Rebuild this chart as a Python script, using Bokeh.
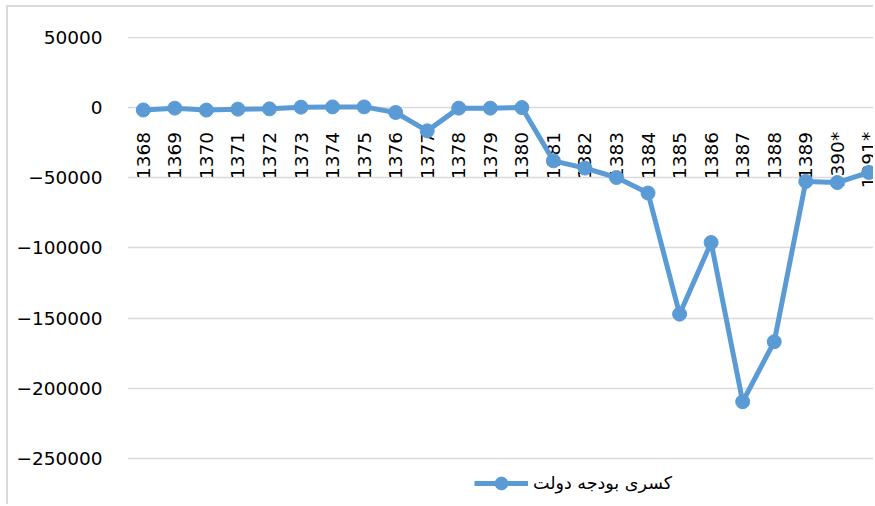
import math
from bokeh.plotting import figure
from bokeh.models import (Range1d, FixedTicker, BasicTickFormatter, ColumnDataSource,
                          Legend, LegendItem)
from bokeh.core.properties import value
from bokeh.embed import file_html
from bokeh.resources import INLINE

years = ["1368", "1369", "1370", "1371", "1372", "1373", "1374", "1375", "1376",
         "1377", "1378", "1379", "1380", "1381", "1382", "1383", "1384", "1385",
         "1386", "1387", "1388", "1389", "1390*", "1391*"]
deficit = [-1500, -200, -1600, -900, -700, 500, 700, 700, -3300, -16400, -200, -200,
           200, -37800, -43000, -49700, -60800, -147200, -96100, -209700, -166900,
           -52500, -53300, -46100]
y_ticks = [-250000, -200000, -150000, -100000, -50000, 0, 50000]
series_name = "کسری بودجه دولت"

idx = list(range(len(years)))
src = ColumnDataSource(dict(x=idx, y=deficit, label=years, zero=[0] * len(years)))

p = figure(width=867, height=499, output_backend="svg", toolbar_location=None,
           x_range=Range1d(-0.5, 23.21), y_range=Range1d(-284475, 50928),
           min_border_left=119, min_border_right=0, min_border_top=29, min_border_bottom=0,
           styles={"margin-left": "6px", "margin-top": "5px",
                   "border-left": "2px solid #d9d9d9", "border-top": "2px solid #d9d9d9"})
p.outline_line_color = None
p.background_fill_color = "white"
p.border_fill_color = "white"

p.xaxis.visible = False
p.xgrid.visible = False

yax = p.yaxis[0]
yax.ticker = FixedTicker(ticks=y_ticks)
yax.formatter = BasicTickFormatter(use_scientific=False)
yax.axis_line_color = None
yax.major_tick_line_color = None
yax.minor_tick_line_color = None
yax.major_tick_out = 0
yax.major_tick_in = 0
yax.minor_tick_out = 0
yax.major_label_standoff = 25
yax.major_label_text_font = "DejaVu Sans"
yax.major_label_text_font_size = "18.5px"
yax.major_label_text_color = "#000000"

p.ygrid.ticker = FixedTicker(ticks=y_ticks)
p.ygrid.grid_line_color = "#d9d9d9"
p.ygrid.grid_line_width = 1.6

p.text(x="x", y="zero", text="label", source=src, angle=math.pi / 2,
       text_align="right", text_baseline="middle", y_offset=24,
       text_font=value("DejaVu Sans"), text_font_size="18.5px", text_color="#000000")

ln = p.line(x="x", y="y", source=src, line_color="#5b9bd5", line_width=5)
sc = p.scatter(x="x", y="y", source=src, size=14, fill_color="#5b9bd5",
               line_color="#5b9bd5")

legend = Legend(items=[LegendItem(label=series_name, renderers=[ln, sc])],
                location=(347, 7), orientation="horizontal")
legend.glyph_width = 54
legend.glyph_height = 32
legend.padding = 2
legend.border_line_color = None
legend.background_fill_alpha = 0
legend.label_text_font = "DejaVu Sans"
legend.label_text_font_size = "17.5px"
legend.label_text_color = "#000000"
p.add_layout(legend)

open("out.html", "w").write(file_html(p, INLINE))
